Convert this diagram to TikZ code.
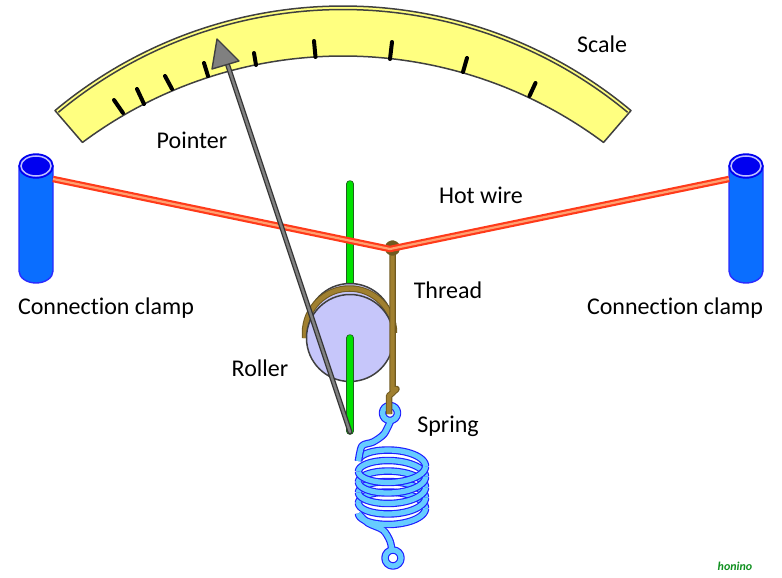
\documentclass[tikz,border=0pt]{standalone}
\usepackage{fontspec}
\setmainfont{Carlito}[Ligatures=NoCommon]
\definecolor{scalefill}{HTML}{FFFF80}
\definecolor{scaleline}{HTML}{404040}
\definecolor{wirered}{HTML}{FF3A1A}
\definecolor{wirecore}{HTML}{FFA070}
\definecolor{rodgreen}{HTML}{00E000}
\definecolor{rodline}{HTML}{206020}
\definecolor{discfill}{HTML}{C6C6FA}
\definecolor{threadbrown}{HTML}{A08030}
\definecolor{threadline}{HTML}{705A20}
\definecolor{clampblue}{HTML}{0A6EFF}
\definecolor{clamptop}{HTML}{0000F0}
\definecolor{clampedge}{HTML}{2A2AFF}
\definecolor{springcore}{HTML}{66CCFF}
\definecolor{springline}{HTML}{1E1EFF}
\definecolor{signgreen}{HTML}{109020}
\newcommand{\coilpart}[2]{%
  \draw[tubeout] plot[variable=\t,domain=#1:#2,samples=40,smooth] ({392+33.5*cos(\t)},{461+(\t-180)/360*10.5+13.5*sin(\t)});
  \draw[tubein] plot[variable=\t,domain=#1:#2,samples=40,smooth] ({392+33.5*cos(\t)},{461+(\t-180)/360*10.5+13.5*sin(\t)});
}
\newcommand{\clampshape}[2]{%
  \fill[clampblue,draw=clampedge,line width=1.4pt] (#1-17,166) -- (#1-17,271) arc[start angle=180,end angle=360,x radius=17pt,y radius=12pt] -- (#1+17,166) -- cycle;
  \draw[clamptop,fill=clamptop,line width=1.4pt] (#1,166) ellipse[x radius=17pt,y radius=12pt];
  \draw[white!75!blue,line width=1.5pt] (#1,166) ellipse[x radius=15pt,y radius=10pt];
}
\tikzset{
  labeltext/.style={font=\fontsize{24}{28}\selectfont,text=black,inner sep=0pt},
  scaleedge/.style={draw=scaleline,line width=1.5pt},
  tickmark/.style={draw=black,line width=4pt,line cap=round},
  wireout/.style={draw=wirered,line width=6.5pt},
  wirein/.style={draw=wirecore,line width=2.2pt},
  rodout/.style={draw=rodline,line width=7.5pt,line cap=round},
  rodin/.style={draw=rodgreen,line width=6pt,line cap=round},
  threadout/.style={draw=threadline,line width=6.5pt,line join=round},
  threadin/.style={draw=threadbrown,line width=4.4pt,line join=round},
  tubeout/.style={draw=springline,line width=7.5pt,line join=round},
  tubein/.style={draw=springcore,line width=5.2pt,line join=round},
  discstyle/.style={fill=discfill,draw=black!75,line width=1.5pt},
}
\begin{document}
\begin{tikzpicture}[x=1pt,y=-1pt]
\useasboundingbox (0,0) rectangle (782,578);
% scale
\fill[scalefill,scaleedge,line join=round]
  plot[variable=\t,domain=129.9:50.1,samples=90] ({343+449*cos(\t)},{455-449*sin(\t)})
  -- plot[variable=\t,domain=53.3:126.7,samples=90] ({343+436*cos(\t)},{492-436*sin(\t)}) -- cycle;
\draw[scaleedge] plot[variable=\t,domain=129.7:50.3,samples=90] ({343+445.5*cos(\t)},{455-445.5*sin(\t)});
\coordinate (t1a) at (114,100); \coordinate (t1b) at (123,113);
\coordinate (t2a) at (137,89);  \coordinate (t2b) at (144,104);
\coordinate (t3a) at (165,76);  \coordinate (t3b) at (172,89);
\coordinate (t4a) at (204,63);  \coordinate (t4b) at (208,76);
\coordinate (t5a) at (254,53);  \coordinate (t5b) at (256,65);
\coordinate (t6a) at (314,41);  \coordinate (t6b) at (315.5,57);
\coordinate (t7a) at (392,42);  \coordinate (t7b) at (390,59);
\coordinate (t8a) at (467,58);  \coordinate (t8b) at (463,72);
\coordinate (t9a) at (535.5,83);\coordinate (t9b) at (529.5,96);
\foreach \n in {1,...,9} \draw[tickmark] (t\n a) -- (t\n b);
% green rod, upper part
\coordinate (rodTop) at (350,184);
\coordinate (rodMid) at (350,290);
\coordinate (rodLow) at (350,338);
\coordinate (rodEnd) at (350,431);
\draw[rodout] (rodTop) -- (rodMid);
\draw[rodin] (rodTop) -- (rodMid);
% clamps
\clampshape{36}{}
\clampshape{746}{}
% roller
\coordinate (knot) at (392.5,248);
\coordinate (threadRight) at (392.5,333);
\coordinate (threadLeft) at (305,333);
\draw[discstyle] (350,327) circle[radius=43.5pt];
\draw[threadout] (305,338) -- (threadLeft) arc[start angle=180,end angle=0,radius=44.5pt];
\draw[threadin] (305,338) -- (threadLeft) arc[start angle=180,end angle=0,radius=44.5pt];
\draw[discstyle] (350,338) circle[radius=43.5pt];
\draw[rodout] (rodLow) -- (rodEnd);
\draw[rodin] (rodLow) -- (rodEnd);
% spring
\coordinate (ringTop) at (390,413);
\coordinate (ringBot) at (393,558);
\draw[tubeout] (ringTop) circle[radius=7.5pt];
\draw[tubeout] (ringBot) circle[radius=8pt];
\foreach \a in {180,540,900,1260,1620} {\pgfmathsetmacro{\b}{\a+180}\coilpart{\a}{\b}}
\draw[tubeout] plot[smooth] coordinates {(391,420) (384,434) (373,442) (362,446) (358.5,461)};
\draw[tubeout] plot[smooth] coordinates {(358.5,513.5) (368,523) (383,530) (390,541) (392,551)};
\foreach \a in {360,720,1080,1440,1800} {\pgfmathsetmacro{\b}{\a+180}\coilpart{\a}{\b}}
\draw[tubein] plot[smooth] coordinates {(391,420) (384,434) (373,442) (362,446) (358.5,461)};
\draw[tubein] plot[smooth] coordinates {(358.5,513.5) (368,523) (383,530) (390,541) (392,551)};
\draw[tubein] (ringTop) circle[radius=7.5pt];
\draw[tubein] (ringBot) circle[radius=8pt];
% thread, vertical part
\coordinate (hookA) at (396.5,389);
\coordinate (hookB) at (389,396);
\coordinate (hookC) at (389,414);
\draw[threadout] (knot) -- (threadRight) -- (392.5,390) -- (hookA) -- (hookB) -- (hookC);
\draw[threadin] (knot) -- (threadRight) -- (392.5,390) -- (hookA) -- (hookB) -- (hookC);
\draw[threadout,fill=none] (knot) circle[radius=4.5pt];
% hot wire
\coordinate (wireL) at (53,179);
\coordinate (wireR) at (729,179);
\coordinate (wireK) at (390,249);
\draw[wireout] (wireL) -- (wireK) -- (wireR);
\draw[wirein] (wireL) -- (wireK) -- (wireR);
% pointer
\coordinate (ptrFoot) at (350,432);
\coordinate (ptrTip) at (226,60);
\draw[draw=black!80,line width=5pt,line cap=round] (ptrFoot) -- (ptrTip);
\draw[draw=black!50,line width=2.4pt,line cap=round] (ptrFoot) -- (ptrTip);
\fill[black!50,draw=black!75,line width=1.4pt,line join=round] (217,39) -- (239,61) -- (212,69) -- cycle;
% labels
\node[labeltext] (lscale) at (602,44.5) {Scale};
\node[labeltext] (lpointer) at (192,140) {Pointer};
\node[labeltext] (lwire) at (481,195) {Hot wire};
\node[labeltext] (lthread) at (448,290.5) {Thread};
\node[labeltext] (lclampL) at (106,308) {Connection clamp};
\node[labeltext] (lclampR) at (675,308) {Connection clamp};
\node[labeltext] (lroller) at (260,368.5) {Roller};
\node[labeltext] (lspring) at (448,426) {Spring};
\node[inner sep=0pt,text=signgreen,font=\fontsize{12}{14}\selectfont\bfseries\itshape] (lsign) at (735,566) {honino};
\end{tikzpicture}
\end{document}
